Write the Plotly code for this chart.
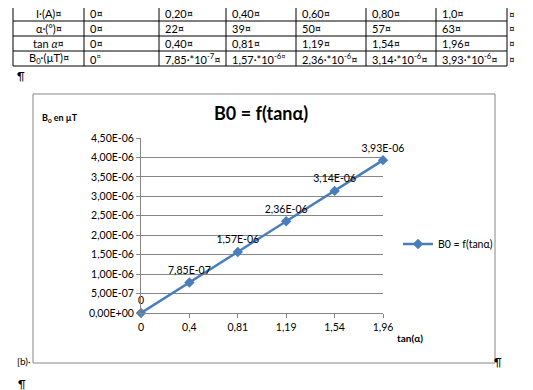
import plotly.graph_objects as go

# page body adds an 8px margin; the figure is sized to fill the rest of the 533x390 window
OX, OY = 8, 8
FW, FH = 533 - OX, 390 - OY

# ---- data ----
tan_labels = ["0", "0,4", "0,81", "1,19", "1,54", "1,96"]
b0_values = [0.0, 7.85e-7, 1.57e-6, 2.36e-6, 3.14e-6, 3.93e-6]
point_labels = ["0", "7,85E-07", "1,57E-06", "2,36E-06", "3,14E-06", "3,93E-06"]
y_tickvals = [0, 5e-7, 1e-6, 1.5e-6, 2e-6, 2.5e-6, 3e-6, 3.5e-6, 4e-6, 4.5e-6]
y_ticktext = ["0,00E+00", "5,00E-07", "1,00E-06", "1,50E-06", "2,00E-06",
              "2,50E-06", "3,00E-06", "3,50E-06", "4,00E-06", "4,50E-06"]

row_head = ["I·(A)¤", "α·(°)¤", "tan <i>α</i>¤", "B<sub>0</sub>·(µT)¤"]
row_I = ["0¤", "0,20¤", "0,40¤", "0,60¤", "0,80¤", "1,0¤"]
row_alpha = ["0¤", "22¤", "39¤", "50¤", "57¤", "63¤"]
row_tan = ["0¤", "0,40¤", "0,81¤", "1,19¤", "1,54¤", "1,96¤"]
row_B0 = ["0<sup>¤</sup>", "7,85·*10<sup>-7</sup>¤", "1,57·*10<sup>-6¤</sup>",
          "2,36·*10<sup>-6</sup>¤", "3,14·*10<sup>-6</sup>¤", "3,93·*10<sup>-6</sup>¤"]

FONT = "Lato"
BLUE = "#4A7EBB"
GRID = "#868686"

def px(x):
    return (x - OX) / FW

def py(y):
    return 1 - (y - OY) / FH

fig = go.Figure()

# ---- table (Word table drawn with shapes + text) ----
col_edges = [13, 84, 159, 226, 296, 366, 436, 507]
row_edges = [6, 21, 36, 51, 66]
for xe in col_edges:
    fig.add_shape(type="line", xref="paper", yref="paper",
                  x0=px(xe), x1=px(xe), y0=py(row_edges[0]), y1=py(row_edges[-1]),
                  line=dict(color="black", width=1))
for ye in row_edges:
    fig.add_shape(type="line", xref="paper", yref="paper",
                  x0=px(col_edges[0]), x1=px(col_edges[-1]), y0=py(ye), y1=py(ye),
                  line=dict(color="black", width=1))

table_rows = [row_I, row_alpha, row_tan, row_B0]
for r, (head, vals) in enumerate(zip(row_head, table_rows)):
    yc = (row_edges[r] + row_edges[r + 1]) / 2
    fig.add_annotation(text=head, x=px((col_edges[0] + col_edges[1]) / 2), y=py(yc),
                       xref="paper", yref="paper", xanchor="center", yanchor="middle",
                       showarrow=False, font=dict(family=FONT, size=11, color="black"))
    for c, v in enumerate(vals):
        fig.add_annotation(text=v, x=px(col_edges[c + 1] + 4), y=py(yc),
                           xref="paper", yref="paper", xanchor="left", yanchor="middle",
                           showarrow=False, font=dict(family=FONT, size=11, color="black"))
    fig.add_annotation(text="¤", x=px(512), y=py(yc), xref="paper", yref="paper",
                       xanchor="center", yanchor="middle", showarrow=False,
                       font=dict(family=FONT, size=10, color="black"))

# ---- chart ----
fig.add_trace(go.Scatter(
    x=tan_labels, y=b0_values,
    mode="lines+markers+text",
    name="B0 = f(tanα)",
    line=dict(color=BLUE, width=2.5),
    marker=dict(symbol="diamond", size=8, color=BLUE),
    text=point_labels, textposition="top center",
    textfont=dict(family=FONT, size=10.5, color="black"),
    cliponaxis=False,
))

fig.update_xaxes(
    type="category", domain=[px(141), px(383)], range=[0, 5],
    showgrid=False, showline=True, linecolor=GRID, linewidth=1,
    ticks="outside", ticklen=4, tickcolor=GRID,
    tickfont=dict(family=FONT, size=10.5, color="black"),
    zeroline=False, fixedrange=True, automargin=False,
)
fig.update_yaxes(
    domain=[py(313), py(138)], range=[0, 4.5e-6],
    tickvals=y_tickvals, ticktext=y_ticktext,
    showgrid=True, gridcolor=GRID, gridwidth=1,
    showline=True, linecolor=GRID, linewidth=1,
    ticks="outside", ticklen=4, tickcolor=GRID,
    tickfont=dict(family=FONT, size=10.5, color="black"),
    zeroline=False, fixedrange=True, automargin=False,
)

# chart frame
fig.add_shape(type="rect", xref="paper", yref="paper",
              x0=px(33), x1=px(495), y0=py(363), y1=py(94),
              line=dict(color=GRID, width=1), layer="below")

anns = [
    dict(text="<b>B0 = f(tanα)</b>", x=px(261), y=py(113), size=18),
    dict(text="<b>B<sub>0</sub> en µT</b>", x=px(60), y=py(118), size=9),
    dict(text="<b>tan(α)</b>", x=px(410), y=py(338), size=10),
    dict(text="¶", x=px(21), y=py(75), size=11),
    dict(text="[b)·", x=px(24), y=py(361), size=10),
    dict(text="¶", x=px(498), y=py(361), size=11),
    dict(text="¶", x=px(22), y=py(383), size=11),
]
for a in anns:
    fig.add_annotation(text=a["text"], x=a["x"], y=a["y"], xref="paper", yref="paper",
                       xanchor="center", yanchor="middle", showarrow=False,
                       font=dict(family=FONT, size=a["size"], color="black"))

fig.update_layout(
    width=FW, height=FH, autosize=False,
    margin=dict(l=0, r=0, t=0, b=0, pad=0, autoexpand=False),
    paper_bgcolor="white", plot_bgcolor="white",
    showlegend=True,
    legend=dict(x=px(398), y=py(244), xanchor="left", yanchor="middle",
                bgcolor="rgba(0,0,0,0)",
                font=dict(family=FONT, size=10.5, color="black")),
)

fig.write_html("out.html")
